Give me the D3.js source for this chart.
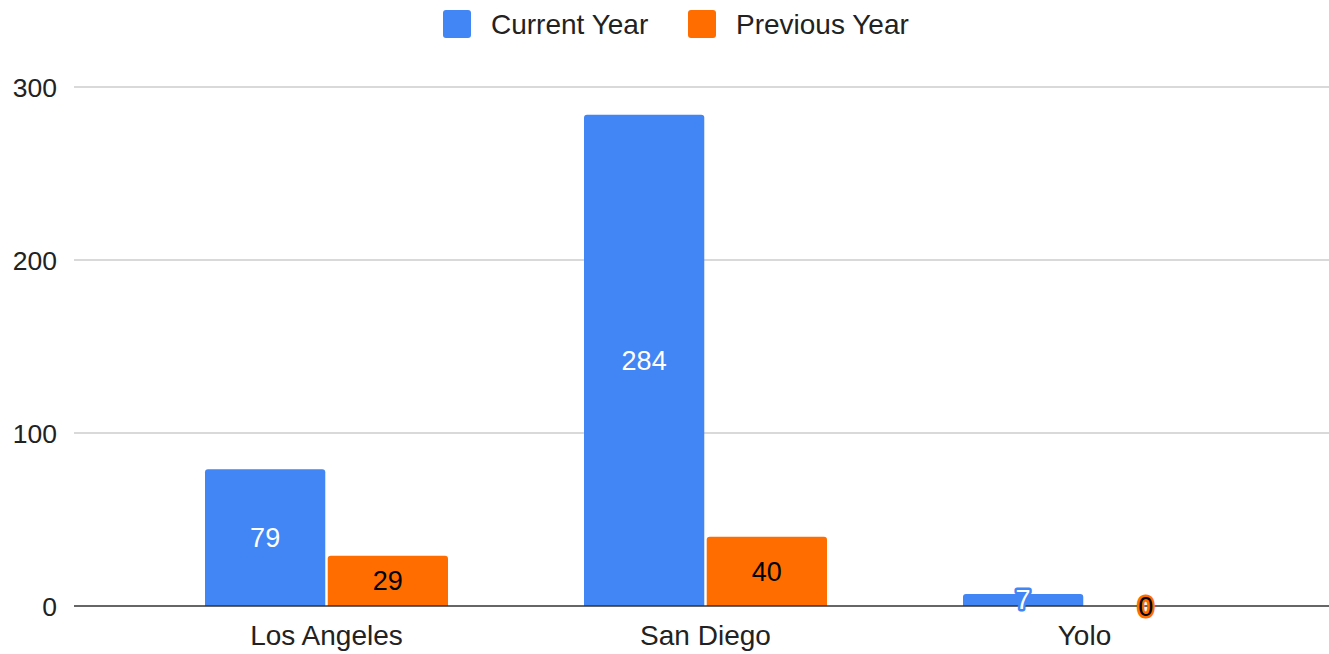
<!DOCTYPE html>
<html>
<head>
<meta charset="utf-8">
<script src="https://cdnjs.cloudflare.com/ajax/libs/d3/7.8.5/d3.min.js"></script>
<style>
  body { margin: 0; background: #fff; }
  text { font-family: "Liberation Sans", Arial, sans-serif; }
</style>
</head>
<body>
<div id="chart"></div>
<script>
var categories = ["Los Angeles", "San Diego", "Yolo"];
var seriesNames = ["Current Year", "Previous Year"];
var currentYear = [79, 284, 7];
var previousYear = [29, 40, 0];
var yTicks = [0, 100, 200, 300];

var colors = ["#4285f4", "#ff6d01"];
var W = 1329, H = 654;

var svg = d3.select("#chart").append("svg")
    .attr("width", W)
    .attr("height", H);

var y = d3.scaleLinear().domain([0, 300]).range([606, 87]);
var x = d3.scaleBand().domain(categories).range([137, 1274]);
var xs = d3.scaleBand().domain(seriesNames).range([0, 243]).paddingInner(0.02);

// gridlines
svg.append("g").selectAll("line")
    .data(yTicks.filter(function(d) { return d !== 0; }))
    .enter().append("line")
    .attr("x1", 74).attr("x2", W)
    .attr("y1", function(d) { return y(d); })
    .attr("y2", function(d) { return y(d); })
    .attr("stroke", "#cccccc")
    .attr("stroke-width", 1.5);

// y labels
svg.append("g").selectAll("text")
    .data(yTicks)
    .enter().append("text")
    .attr("x", 57)
    .attr("y", function(d) { return y(d) + 10; })
    .attr("text-anchor", "end")
    .attr("font-size", 26.5)
    .attr("fill", "#222")
    .text(function(d) { return d; });

// bar path with rounded top corners
function barPath(x0, w, yTop, yBase) {
    var h = yBase - yTop;
    var r = Math.min(3, h / 2, w / 2);
    return "M" + x0 + "," + yBase +
        "V" + (yTop + r) +
        "Q" + x0 + "," + yTop + " " + (x0 + r) + "," + yTop +
        "H" + (x0 + w - r) +
        "Q" + (x0 + w) + "," + yTop + " " + (x0 + w) + "," + (yTop + r) +
        "V" + yBase + "Z";
}

var rows = [];
categories.forEach(function(c, i) {
    rows.push({cat: c, s: 0, v: currentYear[i]});
    rows.push({cat: c, s: 1, v: previousYear[i]});
});

function barX(d) {
    return x(d.cat) + (x.bandwidth() - 243) / 2 + xs(seriesNames[d.s]);
}

svg.append("g").selectAll("path")
    .data(rows.filter(function(d) { return d.v > 0; }))
    .enter().append("path")
    .attr("d", function(d) { return barPath(barX(d), xs.bandwidth(), y(d.v), y(0)); })
    .attr("fill", function(d) { return colors[d.s]; });

// baseline
svg.append("line")
    .attr("x1", 74).attr("x2", W)
    .attr("y1", y(0)).attr("y2", y(0))
    .attr("stroke", "#333")
    .attr("stroke-width", 1.5);

// value labels
svg.append("g").selectAll("text")
    .data(rows)
    .enter().append("text")
    .attr("x", function(d) { return barX(d) + xs.bandwidth() / 2; })
    .attr("y", function(d) { return (y(d.v) + y(0)) / 2 + 9.5; })
    .attr("text-anchor", "middle")
    .attr("font-size", 27)
    .attr("fill", function(d) { return d.s === 0 ? "#fff" : "#000"; })
    .attr("stroke", function(d) { return (y(0) - y(d.v)) < 30 ? colors[d.s] : "none"; })
    .attr("stroke-width", 5)
    .attr("stroke-linejoin", "round")
    .attr("paint-order", "stroke")
    .text(function(d) { return d.v; });

// category labels
svg.append("g").selectAll("text")
    .data(categories)
    .enter().append("text")
    .attr("x", function(d) { return x(d) + x.bandwidth() / 2; })
    .attr("y", 645)
    .attr("text-anchor", "middle")
    .attr("font-size", 28)
    .attr("fill", "#222")
    .text(function(d) { return d; });

// legend
var legendX = [443, 688];
var lg = svg.append("g").selectAll("g")
    .data(seriesNames)
    .enter().append("g")
    .attr("transform", function(d, i) { return "translate(" + legendX[i] + ",10)"; });
lg.append("rect")
    .attr("width", 28).attr("height", 28)
    .attr("rx", 3)
    .attr("fill", function(d, i) { return colors[i]; });
lg.append("text")
    .attr("x", 48)
    .attr("y", 24)
    .attr("font-size", 28)
    .attr("fill", "#222")
    .text(function(d) { return d; });
</script>
</body>
</html>
